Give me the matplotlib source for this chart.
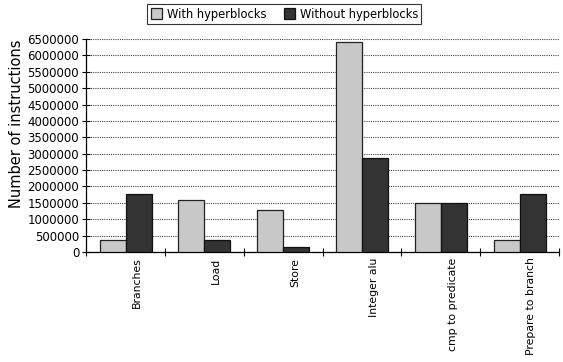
import matplotlib
matplotlib.use("Agg")
import matplotlib.pyplot as plt
import numpy as np

categories = ["Branches", "Load", "Store", "Integer alu",
              "cmp to predicate", "Prepare to branch"]
withHyper = [350000, 1580000, 1290000, 6400000, 1480000, 350000]
withoutHyper = [1780000, 370000, 150000, 2860000, 1480000, 1780000]
seriesNames = ["With hyperblocks", "Without hyperblocks"]
yTicks = np.arange(0, 6500001, 500000)

fig = plt.figure(figsize=(5.63, 3.62), dpi=100)
ax = fig.add_axes([0.153, 0.304, 0.84, 0.588])

x = np.arange(len(categories))
w = 0.33
ax.bar(x - w / 2, withHyper, w, color="#c8c8c8", edgecolor="#222222",
       linewidth=0.9, label=seriesNames[0], zorder=3)
ax.bar(x + w / 2, withoutHyper, w, color="#333333", edgecolor="#111111",
       linewidth=0.9, label=seriesNames[1], zorder=3)

ax.set_xlim(-0.5, len(categories) - 0.5)
ax.set_ylim(0, 6500000)
ax.set_yticks(yTicks)
ax.set_yticklabels([str(v) for v in yTicks], fontsize=8.5)
ax.yaxis.grid(True, linestyle=(0, (1, 1)), color="#444444", linewidth=0.8, zorder=0)

# ticks at group boundaries, labels offset onto the dark bar
ax.set_xticks(np.arange(len(categories) + 1) - 0.5)
ax.set_xticklabels([])
ax.set_xticks(x + 0.15, minor=True)
ax.set_xticklabels(categories, minor=True, rotation=90, fontsize=7.8, va="top")
ax.tick_params(axis="x", which="minor", length=0, pad=4)
ax.tick_params(axis="both", which="major", direction="inout", length=6, width=0.8,
               pad=2)

for side in ["top", "right"]:
    ax.spines[side].set_visible(False)
ax.spines["left"].set_linewidth(0.9)
ax.spines["bottom"].set_linewidth(0.9)

ax.set_ylabel("Number of instructions", fontsize=10.5)
ax.yaxis.set_label_coords(-0.131, 0.6)

leg = fig.legend(loc="upper center", bbox_to_anchor=(0.505, 0.995), ncol=2,
                 fontsize=8.3, frameon=True, fancybox=False, edgecolor="black",
                 handlelength=1.0, handleheight=1.0, handletextpad=0.4,
                 columnspacing=1.5, borderpad=0.3, borderaxespad=0.2)
leg.get_frame().set_linewidth(0.8)

fig.savefig("out.png", dpi=100)
